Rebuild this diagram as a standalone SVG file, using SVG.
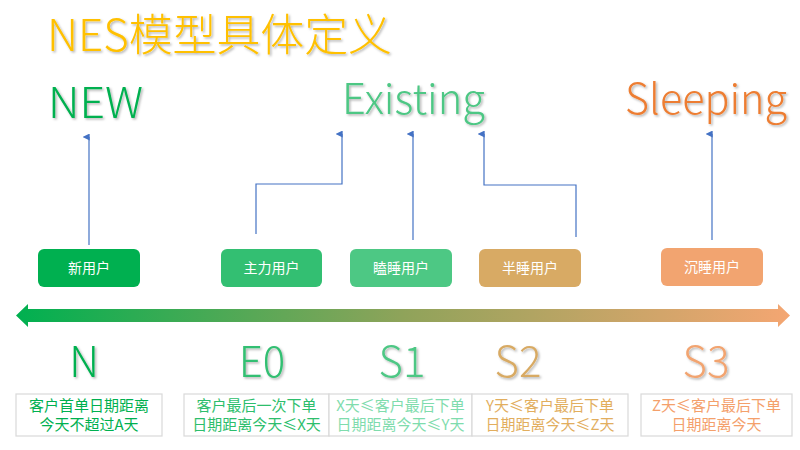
<svg xmlns="http://www.w3.org/2000/svg" width="800" height="450" viewBox="0 0 800 450">
<defs>
<style>
text{font-family:"Noto Sans CJK SC","Noto Sans",sans-serif}
.big{font-size:42px;font-weight:300}
.title{font-size:44px;fill:#FFC000;font-weight:300}
.btxt{font-size:14px;fill:#fff;text-anchor:middle}
.dtxt{font-size:15px;text-anchor:middle}
.dbox{fill:#fff;stroke:#D9D9D9;stroke-width:1.2}
.conn{fill:none;stroke:#4472C4;stroke-width:1.2}
</style>
<filter id="sh" x="-10%" y="-10%" width="130%" height="140%">
<feDropShadow dx="1.5" dy="1.5" stdDeviation="1" flood-color="#000" flood-opacity="0.3"/>
</filter>
<marker id="ah" viewBox="0 0 10 10" refX="5" refY="9" markerWidth="7" markerHeight="7" orient="auto-start-reverse" markerUnits="userSpaceOnUse">
<path d="M0,10 L5,0 L10,10 Z" fill="#4472C4"/>
</marker>
<linearGradient id="grad" x1="16" y1="0" x2="790" y2="0" gradientUnits="userSpaceOnUse">
<stop offset="0" stop-color="#00B050"/>
<stop offset="0.5" stop-color="#8FA35A"/>
<stop offset="1" stop-color="#F4A672"/>
</linearGradient>
</defs>
<rect width="800" height="450" fill="#fff"/>

<text id="title" class="title" x="47" y="51" textLength="345" lengthAdjust="spacingAndGlyphs" filter="url(#sh)">NES模型具体定义</text>

<g id="cat-new"><text class="big" x="48" y="118" textLength="95" lengthAdjust="spacingAndGlyphs" fill="#00B050" filter="url(#sh)">NEW</text></g>
<g id="cat-existing"><text class="big" x="342" y="114" textLength="143" lengthAdjust="spacingAndGlyphs" fill="#4DC784" filter="url(#sh)">Existing</text></g>
<g id="cat-sleeping"><text class="big" x="625" y="114" textLength="162" lengthAdjust="spacingAndGlyphs" fill="#ED7D31" filter="url(#sh)">Sleeping</text></g>

<g id="connectors">
<path class="conn" d="M89,245 V137" marker-end="url(#ah)"/>
<path class="conn" d="M256,234 V184 H342 V134" marker-end="url(#ah)"/>
<path class="conn" d="M413,240 V134" marker-end="url(#ah)"/>
<path class="conn" d="M576,237 V185 H484 V134" marker-end="url(#ah)"/>
<path class="conn" d="M712,240 V134" marker-end="url(#ah)"/>
</g>

<g id="node-new"><rect x="38" y="249" width="102" height="38" rx="6" fill="#00B050"/><text class="btxt" x="89" y="273">新用户</text></g>
<g id="node-main"><rect x="221" y="249" width="101" height="38" rx="6" fill="#33BF72"/><text class="btxt" x="271.5" y="273">主力用户</text></g>
<g id="node-doze"><rect x="350" y="249" width="102" height="38" rx="6" fill="#4DC884"/><text class="btxt" x="401" y="273">瞌睡用户</text></g>
<g id="node-half"><rect x="479" y="249" width="102" height="38" rx="6" fill="#D8AA64"/><text class="btxt" x="530" y="273">半睡用户</text></g>
<g id="node-deep"><rect x="661" y="248" width="102" height="38" rx="6" fill="#F2A470"/><text class="btxt" x="712" y="272">沉睡用户</text></g>

<g id="timeline"><path d="M16,315.5 L28,304 L28,309 L778,309 L778,304 L790,315.5 L778,327 L778,322 L28,322 L28,327 Z" fill="url(#grad)"/></g>

<g id="stage-n"><text class="big" x="84" y="377" text-anchor="middle" fill="#00B050" filter="url(#sh)">N</text>
<rect class="dbox" x="16" y="394" width="146" height="42"/>
<text class="dtxt" fill="#00B050" x="89" y="411">客户首单日期距离</text>
<text class="dtxt" fill="#00B050" x="89" y="430">今天不超过A天</text></g>

<g id="stage-e0"><text class="big" x="262" y="377" text-anchor="middle" fill="#33BF72" filter="url(#sh)">E0</text>
<rect class="dbox" x="184" y="394" width="145" height="42"/>
<text class="dtxt" fill="#2DBE6C" x="256.5" y="411">客户最后一次下单</text>
<text class="dtxt" fill="#2DBE6C" x="256.5" y="430">日期距离今天≤X天</text></g>

<g id="stage-s1"><text class="big" x="402" y="377" text-anchor="middle" fill="#4DC784" filter="url(#sh)">S1</text>
<rect class="dbox" x="329" y="394" width="143" height="42"/>
<text class="dtxt" fill="#7FDCAD" x="400.5" y="411">X天≤客户最后下单</text>
<text class="dtxt" fill="#7FDCAD" x="400.5" y="430">日期距离今天≤Y天</text></g>

<g id="stage-s2"><text class="big" x="518" y="377" text-anchor="middle" fill="#D8AA64" filter="url(#sh)">S2</text>
<rect class="dbox" x="472" y="394" width="156" height="42"/>
<text class="dtxt" fill="#E2AE5E" x="550" y="411">Y天≤客户最后下单</text>
<text class="dtxt" fill="#E2AE5E" x="550" y="430">日期距离今天≤Z天</text></g>

<g id="stage-s3"><text class="big" x="706" y="377" text-anchor="middle" fill="#F2A470" filter="url(#sh)">S3</text>
<rect class="dbox" x="641" y="394" width="151" height="42"/>
<text class="dtxt" fill="#F4A06B" x="716.5" y="411">Z天≤客户最后下单</text>
<text class="dtxt" fill="#F4A06B" x="716.5" y="430">日期距离今天</text></g>
</svg>
